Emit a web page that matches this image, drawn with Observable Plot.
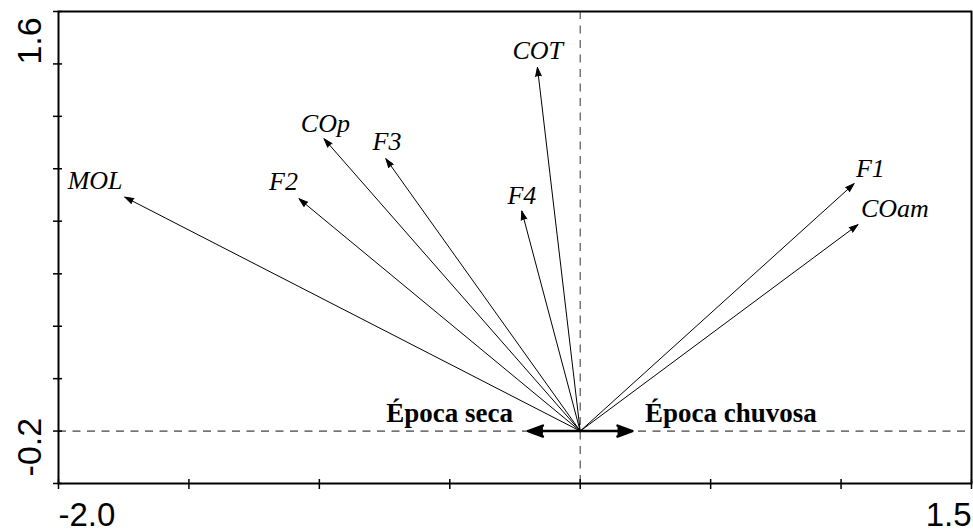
<!DOCTYPE html>
<html>
<head>
<meta charset="utf-8">
<script src="https://cdn.jsdelivr.net/npm/d3@7"></script>
<script src="https://cdn.jsdelivr.net/npm/@observablehq/plot@0.6"></script>
<style>
  html, body { margin: 0; padding: 0; background: #fff; }
</style>
</head>
<body>
<div id="chart"></div>
<script>
// Biplot vectors (axis 1, axis 2)
const variables = ["MOL", "F2", "COp", "F3", "F4", "COT", "F1", "COam"];
const axis1 = [-1.746, -1.078, -0.982, -0.745, -0.224, -0.164, 1.050, 1.065];
const axis2 = [0.947, 0.939, 1.233, 1.135, 0.879, 1.583, 1.013, 0.812];
// label anchor (left/baseline) in data units
const labelX = [-1.965, -1.193, -1.071, -0.796, -0.279, -0.260, 1.057, 1.076];
const labelY = [0.988, 0.980, 1.266, 1.176, 0.915, 1.626, 1.045, 0.849];

// origin of the vectors
const originX = 0;
const originY = -0.2;

// season arrows
const seasons = ["Época seca", "Época chuvosa"];
const seasonX = [-0.2, 0.2];
const seasonLabelX = [-0.258, 0.248];
const seasonLabelY = [-0.155, -0.155];

// ticks and tick labels
const xTicks = [-2.0, -1.5, -1.0, -0.5, 0.0, 0.5, 1.0, 1.5];
const yTicks = [-0.457, -0.2, 0.057, 0.314, 0.571, 0.829, 1.086, 1.343, 1.6, 1.857];
const xLabelValues = [-2.0, 1.5];
const xLabelTexts = ["-2.0", "1.5"];
const yLabelValues = [-0.2, 1.6];
const yLabelTexts = ["-0.2", "1.6"];

const vectors = variables.map((name, i) => ({
  name, x: axis1[i], y: axis2[i], lx: labelX[i], ly: labelY[i]
}));
const seasonRows = seasons.map((name, i) => ({
  name, x: seasonX[i], lx: seasonLabelX[i], ly: seasonLabelY[i]
}));

const serif = "'Liberation Serif', 'Times New Roman', serif";
const sans = "'Liberation Sans', Arial, Helvetica, sans-serif";

const chart = Plot.plot({
  width: 973,
  height: 532,
  marginLeft: 58,
  marginRight: 2,
  marginTop: 11,
  marginBottom: 49,
  style: { fontFamily: sans, background: "#fff", color: "#000" },
  x: { domain: [xTicks[0], xTicks[xTicks.length - 1]] },
  y: { domain: [yTicks[0], yTicks[yTicks.length - 1]] },
  marks: [
    // dashed reference lines through the origin
    Plot.ruleX([originX], { stroke: "#555", strokeWidth: 1.2, strokeDasharray: "8,6.5" }),
    Plot.ruleY([originY], { stroke: "#111", strokeWidth: 1, strokeDasharray: "8,6.5" }),
    // tick marks
    Plot.axisX({ ticks: xTicks, anchor: "bottom", tickSize: 10, dy: -4, fill: "none", strokeWidth: 1.5 }),
    Plot.axisY({ ticks: yTicks, anchor: "left", tickSize: 9, dx: 4, fill: "none", strokeWidth: 1.5 }),
    // variable arrows
    Plot.arrow(vectors, {
      x1: () => originX, y1: () => originY, x2: "x", y2: "y",
      stroke: "#000", fill: "#000", strokeWidth: 1,
      headLength: 14, headAngle: 36
    }),
    Plot.text(vectors, {
      x: "lx", y: "ly", text: "name",
      textAnchor: "start", lineAnchor: "bottom",
      fontFamily: serif, fontStyle: "italic", fontSize: 26, fill: "#000"
    }),
    // season arrows
    Plot.arrow(seasonRows, {
      x1: () => originX, y1: () => originY, x2: "x", y2: () => originY,
      stroke: "#000", fill: "#000", strokeWidth: 2.5,
      headLength: 9.5, headAngle: 40
    }),
    Plot.text(seasonRows.filter(d => d.x < 0), {
      x: "lx", y: "ly", text: "name",
      textAnchor: "end", lineAnchor: "bottom",
      fontFamily: serif, fontWeight: "bold", fontSize: 27, fill: "#000"
    }),
    Plot.text(seasonRows.filter(d => d.x > 0), {
      x: "lx", y: "ly", text: "name",
      textAnchor: "start", lineAnchor: "bottom",
      fontFamily: serif, fontWeight: "bold", fontSize: 27, fill: "#000"
    }),
    // axis extreme labels
    Plot.text([0], {
      x: () => xLabelValues[0], text: () => xLabelTexts[0],
      frameAnchor: "bottom", textAnchor: "start", lineAnchor: "bottom",
      dy: 42, fontSize: 33, fontFamily: sans, fill: "#000"
    }),
    Plot.text([0], {
      x: () => xLabelValues[1], text: () => xLabelTexts[1],
      frameAnchor: "bottom", textAnchor: "end", lineAnchor: "bottom",
      dy: 42, fontSize: 33, fontFamily: sans, fill: "#000"
    }),
    Plot.text([0], {
      y: () => yLabelValues[0], text: () => yLabelTexts[0],
      frameAnchor: "left", rotate: -90, textAnchor: "middle", lineAnchor: "bottom",
      dx: -18, dy: 16, fontSize: 34, fontFamily: sans, fill: "#000"
    }),
    Plot.text([0], {
      y: () => yLabelValues[1], text: () => yLabelTexts[1],
      frameAnchor: "left", rotate: -90, textAnchor: "middle", lineAnchor: "bottom",
      dx: -18, dy: -23, fontSize: 34, fontFamily: sans, fill: "#000"
    }),
    Plot.frame({ stroke: "#000", strokeWidth: 2 })
  ]
});

document.getElementById("chart").appendChild(chart);
</script>
</body>
</html>
